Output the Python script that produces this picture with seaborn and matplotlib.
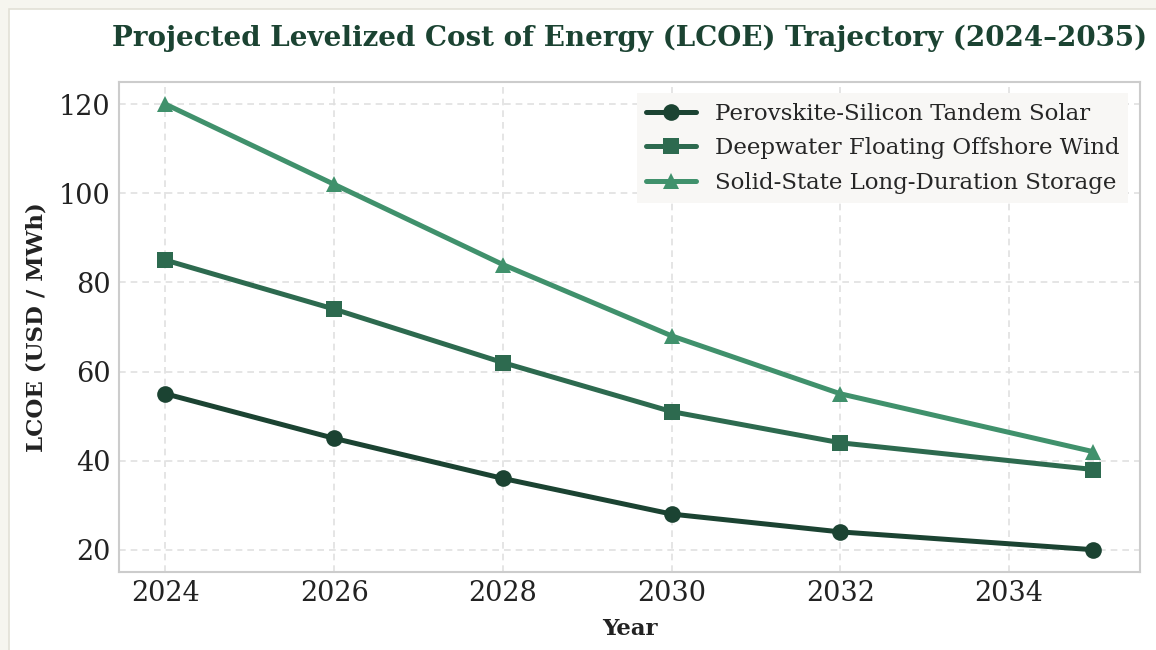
import pandas as pd
import matplotlib.pyplot as plt
import seaborn as sns
from matplotlib.patches import Rectangle

years = [2024, 2026, 2028, 2030, 2032, 2035]
solar = [55, 45, 36, 28, 24, 20]
wind = [85, 74, 62, 51, 44, 38]
storage = [120, 102, 84, 68, 55, 42]

series_names = [
    "Perovskite-Silicon Tandem Solar",
    "Deepwater Floating Offshore Wind",
    "Solid-State Long-Duration Storage",
]
colors = ["#1b4332", "#2d6a4f", "#40916c"]
markers = ["o", "s", "^"]

df = pd.DataFrame({
    "Year": years * 3,
    "LCOE": solar + wind + storage,
    "Technology": [n for n in series_names for _ in years],
})

sns.set_theme(style="whitegrid")
plt.rcParams["font.family"] = ["DejaVu Serif"]

fig = plt.figure(figsize=(11.56, 6.5), dpi=100, facecolor="#f6f5ef")
# white card behind the chart
card = Rectangle((9 / 1156, -0.1), 1.2, 1 - 9 / 650 + 0.1,
                 transform=fig.transFigure, facecolor="white",
                 edgecolor="#e2e0d6", linewidth=1.2, zorder=-10)
fig.patches.append(card)
ax = fig.add_axes([0.103, 0.12, 0.883, 0.754])
ax.set_facecolor("white")

sns.lineplot(data=df, x="Year", y="LCOE", hue="Technology", style="Technology",
             hue_order=series_names, style_order=series_names,
             palette=colors, markers=markers, dashes=False, linewidth=3.6,
             markersize=12, markeredgewidth=0, ax=ax)

ax.set_title("Projected Levelized Cost of Energy (LCOE) Trajectory (2024\u20132035)",
             fontsize=20, fontweight="bold", color="#1b4332", pad=26)
ax.set_xlabel("Year", fontsize=16.5, fontweight="bold", color="#222222", labelpad=8)
ax.set_ylabel("LCOE (USD / MWh)", fontsize=16.5, fontweight="bold", color="#222222",
              labelpad=8)
ax.tick_params(axis="both", labelsize=19.5, colors="#222222", length=0, pad=6)
ax.set_xticks([2024, 2026, 2028, 2030, 2032, 2034])
ax.set_yticks([20, 40, 60, 80, 100, 120])

ax.grid(True, linestyle=(0, (4, 3)), color="#e0e0e0", linewidth=1.2)
for s in ax.spines.values():
    s.set_visible(True)
    s.set_color("#cccccc")
    s.set_linewidth(1.5)

leg = ax.legend(loc="upper right", fontsize=16.5, frameon=True, facecolor="#f8f7f5",
                edgecolor="none", framealpha=1, handlelength=2.2,
                borderpad=0.4, labelspacing=0.56)
leg.get_frame().set_boxstyle("square", pad=0)

fig.savefig("out.png", dpi=100, facecolor=fig.get_facecolor())
